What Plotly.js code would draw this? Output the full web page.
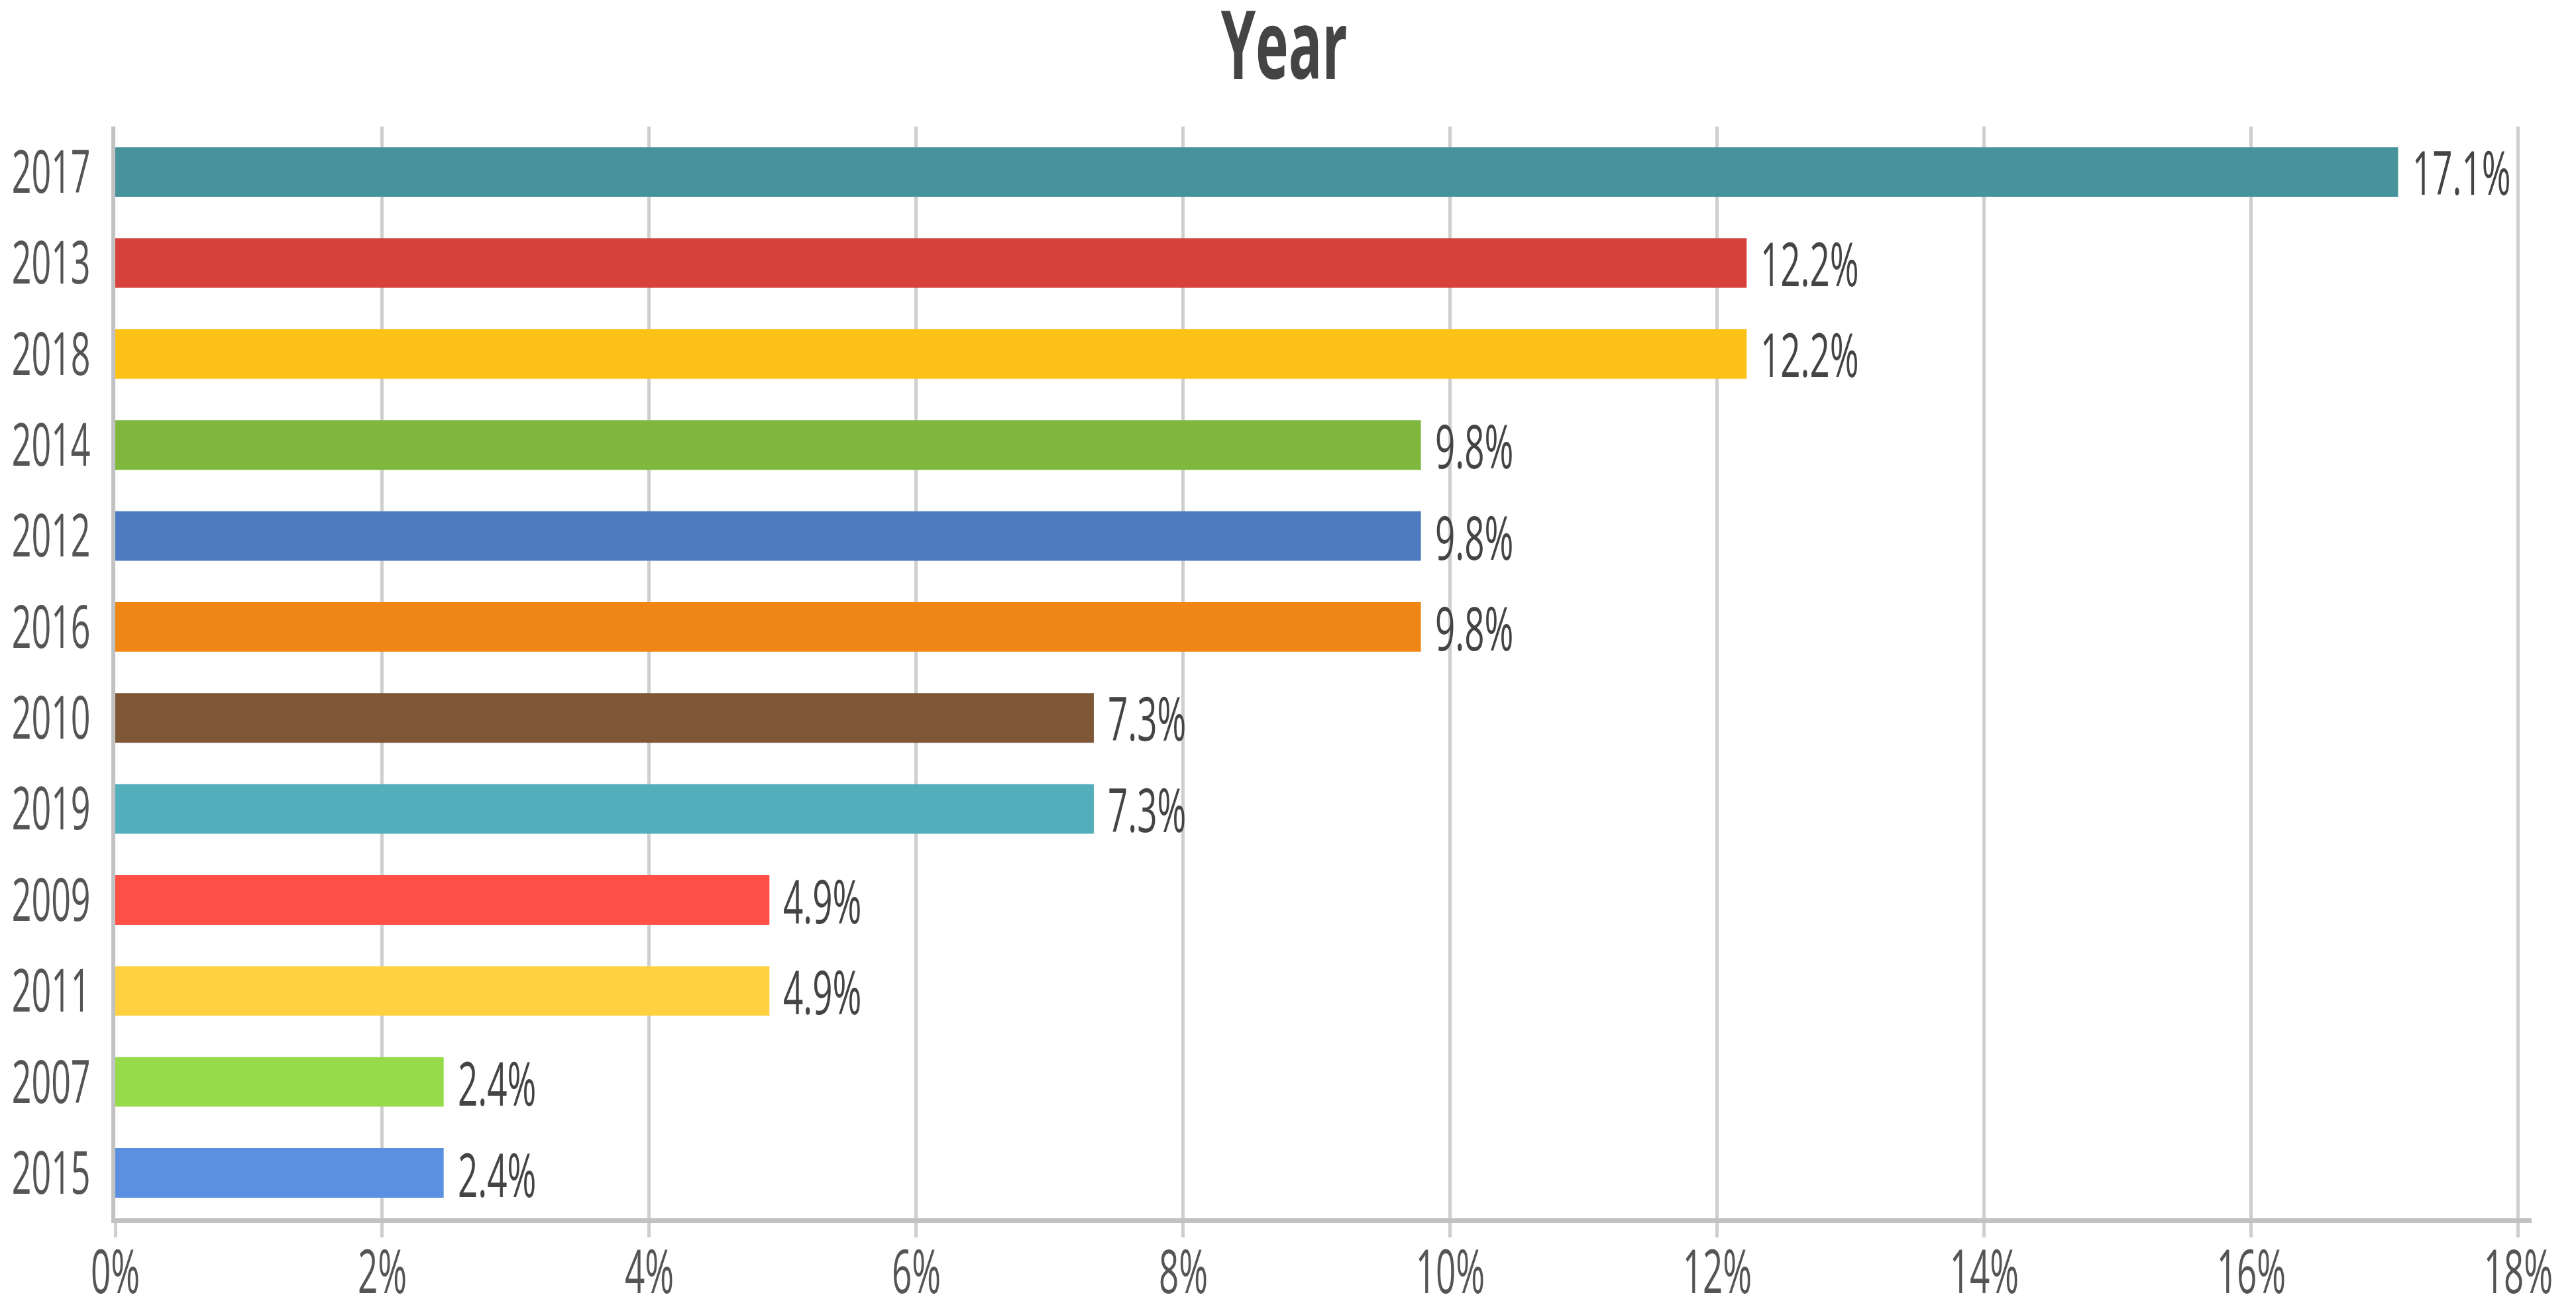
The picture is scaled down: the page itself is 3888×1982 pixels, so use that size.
<!DOCTYPE html>
<html>
<head>
<meta charset="utf-8">
<script src="https://cdn.plot.ly/plotly-3.0.1.min.js"></script>
<style>
  html, body { margin: 0; padding: 0; background: #ffffff; }
  #wrap { width: 3888px; height: 1982px; overflow: hidden; background: #ffffff; }
  #chart { width: 3888px; height: 1152px; transform-origin: 0 0; }
</style>
</head>
<body>
<div id="wrap"><div id="chart"></div></div>
<script>
// ---- data ----
const years = ["2017", "2013", "2018", "2014", "2012", "2016", "2010", "2019", "2009", "2011", "2007", "2015"];
const shares = [17.1, 12.22, 12.22, 9.78, 9.78, 9.78, 7.33, 7.33, 4.9, 4.9, 2.46, 2.46];
const barLabels = ["17.1%", "12.2%", "12.2%", "9.8%", "9.8%", "9.8%", "7.3%", "7.3%", "4.9%", "4.9%", "2.4%", "2.4%"];
const barColors = ["#46939b", "#d6423b", "#fdc218", "#80b83f", "#4e7abf", "#f08616",
                   "#7d5736", "#52aebb", "#ff5047", "#ffd040", "#97db4a", "#5b90e0"];
const xTickVals = [0, 2, 4, 6, 8, 10, 12, 14, 16, 18];
const xTickText = ["0%", "2%", "4%", "6%", "8%", "10%", "12%", "14%", "16%", "18%"];
const chartTitle = "Year";

// ---- vertical stretch (reference text is tall and narrow) ----
const H = 1152;
const K = 1982 / H;
document.getElementById('chart').style.transform = 'scaleY(' + K + ')';

const FONT = "'Open Sans', 'Noto Sans', 'DejaVu Sans', sans-serif";

const trace = {
  type: 'bar',
  orientation: 'h',
  x: shares,
  y: years,
  marker: { color: barColors, line: { width: 0 } },
  width: 0.545,
  hoverinfo: 'none'
};

// on a category axis, annotation positions are category serial numbers
const annotations = years.map((y, i) => ({
  x: shares[i],
  y: i,
  xref: 'x',
  yref: 'y',
  text: barLabels[i],
  showarrow: false,
  xanchor: 'left',
  yanchor: 'middle',
  xshift: 19,
  font: { family: FONT, size: 53, color: '#444444' }
}));

const layout = {
  width: 3888,
  height: H,
  paper_bgcolor: '#ffffff',
  plot_bgcolor: '#ffffff',
  margin: { l: 174, r: 67, t: 111, b: 83, pad: 0 },
  showlegend: false,
  title: {
    text: chartTitle,
    x: 0.4985,
    xanchor: 'center',
    y: 1 - 40 / H,
    yref: 'container',
    yanchor: 'middle',
    font: { family: FONT, size: 84, color: '#444444', weight: 700 }
  },
  xaxis: {
    range: [0, 18.1],
    tickvals: xTickVals,
    ticktext: xTickText,
    showgrid: true,
    gridcolor: '#cfcfcf',
    gridwidth: 5,
    zeroline: false,
    showline: true,
    linecolor: '#c2c2c2',
    linewidth: 4,
    ticks: 'outside',
    ticklen: 13,
    tickwidth: 5,
    tickcolor: '#cfcfcf',
    ticklabelstandoff: -15,
    tickfont: { family: FONT, size: 53, color: '#555555' },
    fixedrange: true
  },
  yaxis: {
    type: 'category',
    categoryorder: 'array',
    categoryarray: years,
    range: [years.length - 0.5, -0.5],
    autorange: false,
    showgrid: false,
    zeroline: false,
    showline: true,
    linecolor: '#c2c2c2',
    linewidth: 6,
    ticks: '',
    ticklabelstandoff: 21,
    tickfont: { family: FONT, size: 52, color: '#555555' },
    fixedrange: true
  },
  annotations: annotations
};

Plotly.newPlot('chart', [trace], layout, { displayModeBar: false, staticPlot: true });
</script>
</body>
</html>
